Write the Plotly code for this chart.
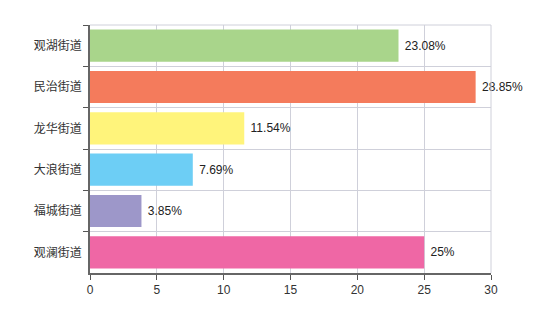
import plotly.graph_objects as go

categories = ["观湖街道", "民治街道", "龙华街道", "大浪街道", "福城街道", "观澜街道"]
values = [23.08, 28.85, 11.54, 7.69, 3.85, 25]
labels = ["23.08%", "28.85%", "11.54%", "7.69%", "3.85%", "25%"]
colors = ["#a9d58b", "#f47b5c", "#fff47b", "#6dcef5", "#9d97c9", "#ef67a5"]
x_ticks = [0, 5, 10, 15, 20, 25, 30]

fig = go.Figure(go.Bar(
    x=values, y=categories, orientation="h",
    marker=dict(color=colors, line=dict(width=0)),
    text=labels, texttemplate=" %{text}", textposition="outside", cliponaxis=False,
    textfont=dict(family="Liberation Sans, Arial, sans-serif", size=12, color="#222"),
))

fig.update_layout(
    width=534, height=325,
    margin=dict(l=90, r=43, t=25, b=52),
    paper_bgcolor="white", plot_bgcolor="white",
    bargap=0.22, showlegend=False,
    font=dict(family="Noto Sans CJK SC, sans-serif", size=12, color="#333"),
)
fig.update_xaxes(
    range=[0, 30], tickvals=x_ticks, ticks="outside", ticklen=5,
    tickcolor="#555", showline=True, linecolor="#666", linewidth=1.5,
    showgrid=True, gridcolor="#cfd0da", gridwidth=1, zeroline=False,
    tickfont=dict(family="Liberation Sans, Arial, sans-serif", size=12, color="#333"),
)
fig.update_yaxes(
    type="category", categoryorder="array", categoryarray=categories,
    autorange="reversed", tickson="boundaries", ticks="outside", ticklen=5,
    tickcolor="#555", showline=True, linecolor="#666", linewidth=1.5,
    showgrid=True, gridcolor="#cfd0da", gridwidth=1,
    tickfont=dict(size=12, color="#333"), ticklabelstandoff=4,
)
fig.add_shape(type="line", xref="paper", yref="paper", x0=0, x1=1, y0=1, y1=1,
              line=dict(color="#cfd0da", width=1))
fig.add_shape(type="line", xref="paper", yref="paper", x0=1, x1=1, y0=0, y1=1,
              line=dict(color="#cfd0da", width=1))

fig.write_html("out.html")
